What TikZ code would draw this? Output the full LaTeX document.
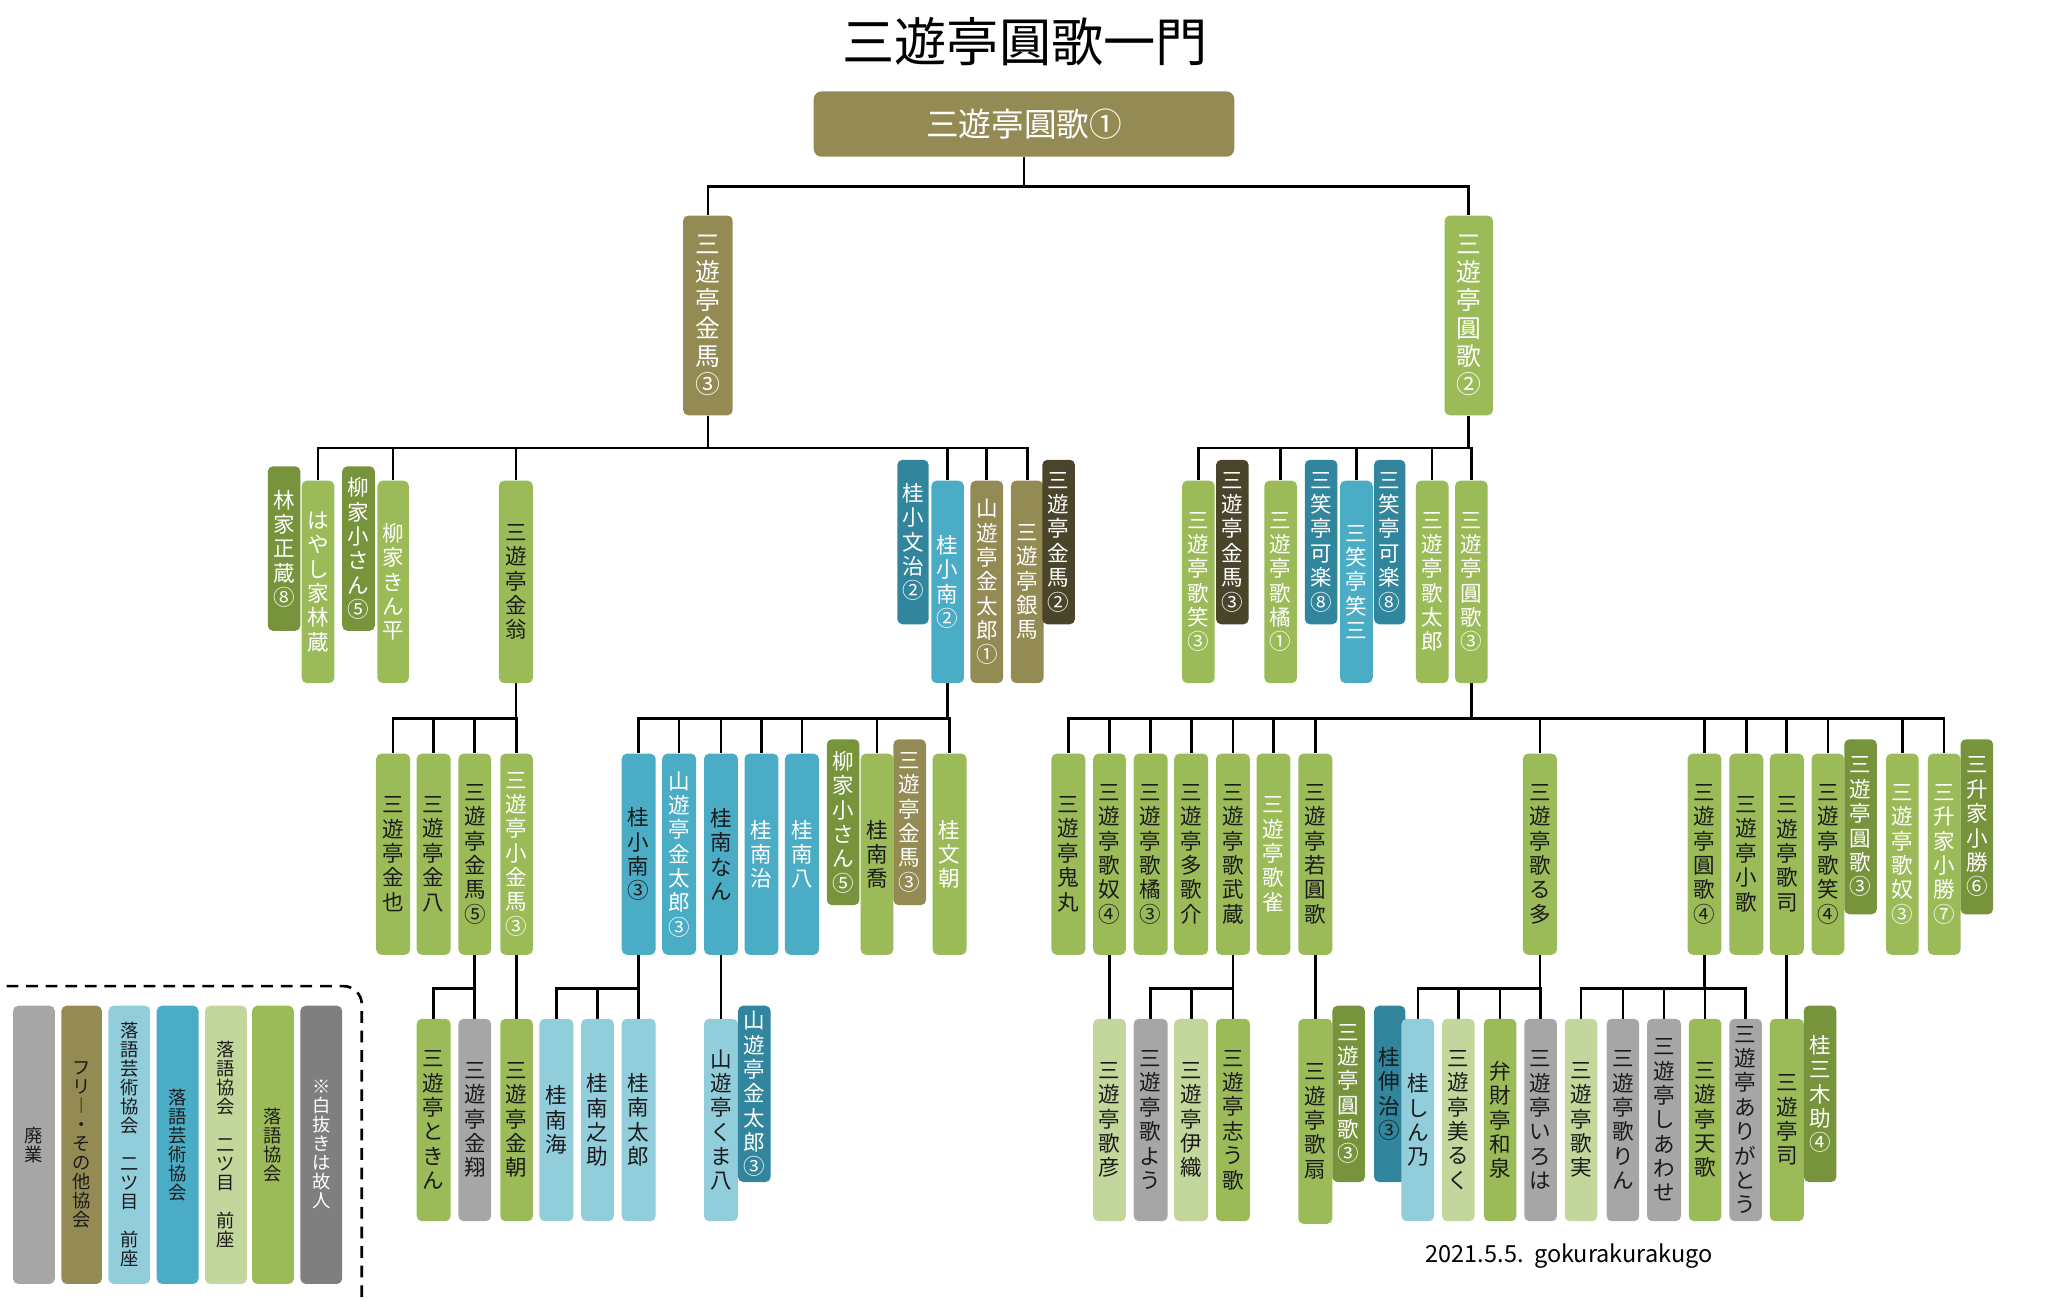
\documentclass[tikz,border=0pt]{standalone}
\usepackage{fontspec}
\setmainfont{Noto Sans CJK JP}
\usetikzlibrary{backgrounds}
\ExplSyntaxOn
\NewDocumentCommand\vt{m}{\vbox{\baselineskip=1.13em\lineskip=0pt\lineskiplimit=-100pt\tl_map_inline:nn{#1}{\hbox to 1em{\hss##1\hss}}}}
\NewDocumentCommand\vtl{m}{\vbox{\baselineskip=1.04em\lineskip=0pt\lineskiplimit=-100pt\tl_map_inline:nn{#1}{\hbox to 1em{\hss##1\hss}}}}
\ExplSyntaxOff
\definecolor{g}{HTML}{9BBB59}
\definecolor{dg}{HTML}{77933C}
\definecolor{ol}{HTML}{948A54}
\definecolor{do}{HTML}{4A452A}
\definecolor{te}{HTML}{31859C}
\definecolor{bl}{HTML}{4BACC6}
\definecolor{pb}{HTML}{92CDDC}
\definecolor{pg}{HTML}{C3D69B}
\definecolor{gr}{HTML}{A6A6A6}
\definecolor{dgr}{HTML}{7F7F7F}
\colorlet{W}{white}
\definecolor{K}{HTML}{1A1A1A}
\tikzset{
  box/.style={rounded corners=4pt,inner sep=0pt,font=\fontsize{16.5}{18}\selectfont},
  con/.style={line width=2pt,black},
}
% \B{name}{x1}{x2}{y1}{y2}{fill}{text}{label}
\newcommand\B[8]{\node[box,fill=#6,text=#7,minimum width={(#3-#2)*1pt},minimum height={(#5-#4)*1pt}] (#1) at ({(#2+#3)/2},{(#4+#5)/2}) {\vt{#8}};}
\newcommand\Bs[8]{\node[box,fill=#6,text=#7,minimum width={(#3-#2)*1pt},minimum height={(#5-#4)*1pt},font=\fontsize{19}{21}\selectfont] (#1) at ({(#2+#3)/2},{(#4+#5)/2}) {\vt{#8}};}
\newcommand\Bl[8]{\node[box,fill=#6,text=#7,minimum width={(#3-#2)*1pt},minimum height={(#5-#4)*1pt},font=\fontsize{14}{16}\selectfont] (#1) at ({(#2+#3)/2},{(#4+#5)/2}) {\vtl{#8}};}
\newcommand\con[3]{\draw[con] (#1.south) -- (#1.south|-#2) -| (#3.north);}
\begin{document}
\begin{tikzpicture}[x=1pt,y=-1pt]
\useasboundingbox (0,0) rectangle (1568,995);
\coordinate (L0) at (0,143);
\coordinate (L1) at (0,343);
\coordinate (L2) at (0,550);
\coordinate (L3) at (0,757);
\node[font=\fontsize{40}{44}\selectfont] (title) at (785,32) {三遊亭圓歌一門};
\node[fill=ol,rounded corners=6pt,text=white,minimum width=322pt,minimum height=50pt,font=\fontsize{25}{27}\selectfont] (r) at (784,95) {三遊亭圓歌①};
\Bs{k3}{523}{561}{165}{318}{ol}{W}{三遊亭金馬③}
\Bs{e2}{1106}{1143}{165}{318}{g}{W}{三遊亭圓歌②}
% level 2 left
\B{a1}{205}{230}{357}{483}{dg}{W}{林家正蔵⑧}
\B{a2}{231}{256}{368}{523}{g}{W}{はやし家林蔵}
\B{a3}{262}{287}{357}{483}{dg}{W}{柳家小さん⑤}
\B{a4}{289}{313}{368}{523}{g}{W}{柳家きん平}
\B{a5}{382}{408}{368}{523}{g}{K}{三遊亭金翁}
\B{a6}{687}{711}{352}{478}{te}{W}{桂小文治②}
\B{a7}{713}{738}{368}{523}{bl}{W}{桂小南②}
\B{a8}{743}{768}{368}{523}{ol}{W}{山遊亭金太郎①}
\B{a9}{774}{799}{368}{523}{ol}{W}{三遊亭銀馬}
\B{a10}{798}{823}{352}{478}{do}{W}{三遊亭金馬②}
% level 2 right
\B{b1}{905}{930}{368}{523}{g}{W}{三遊亭歌笑③}
\B{b2}{931}{956}{352}{478}{do}{W}{三遊亭金馬③}
\B{b3}{968}{993}{368}{523}{g}{W}{三遊亭歌橘①}
\B{b4}{999}{1024}{352}{478}{te}{W}{三笑亭可楽⑧}
\B{b5}{1026}{1051}{368}{523}{bl}{W}{三笑亭笑三}
\B{b6}{1052}{1076}{352}{478}{te}{W}{三笑亭可楽⑧}
\B{b7}{1084}{1109}{368}{523}{g}{W}{三遊亭歌太郎}
\B{b8}{1114}{1139}{368}{523}{g}{W}{三遊亭圓歌③}
% level 3
\B{c1}{288}{314}{577}{731}{g}{K}{三遊亭金也}
\B{c2}{319}{345}{577}{731}{g}{K}{三遊亭金八}
\B{c3}{351}{376}{577}{731}{g}{K}{三遊亭金馬⑤}
\B{c4}{383}{408}{577}{731}{g}{W}{三遊亭小金馬③}
\B{d1}{476}{502}{577}{731}{bl}{K}{桂小南③}
\B{d2}{507}{533}{577}{731}{bl}{W}{山遊亭金太郎③}
\B{d3}{539}{565}{577}{731}{bl}{K}{桂南なん}
\B{d4}{570}{596}{577}{731}{bl}{W}{桂南治}
\B{d5}{601}{627}{577}{731}{bl}{W}{桂南八}
\B{d6}{633}{658}{566}{693}{dg}{W}{柳家小さん⑤}
\B{d7}{659}{684}{577}{731}{g}{K}{桂南喬}
\B{d8}{684}{709}{566}{693}{ol}{W}{三遊亭金馬③}
\B{d9}{714}{740}{577}{731}{g}{W}{桂文朝}
\B{f1}{805}{831}{577}{731}{g}{K}{三遊亭鬼丸}
\B{f2}{837}{862}{577}{731}{g}{K}{三遊亭歌奴④}
\B{f3}{868}{894}{577}{731}{g}{K}{三遊亭歌橘③}
\B{f4}{899}{925}{577}{731}{g}{K}{三遊亭多歌介}
\B{f5}{931}{957}{577}{731}{g}{K}{三遊亭歌武蔵}
\B{f6}{962}{988}{577}{731}{g}{W}{三遊亭歌雀}
\B{f7}{994}{1020}{577}{731}{g}{K}{三遊亭若圓歌}
\B{f8}{1166}{1192}{577}{731}{g}{K}{三遊亭歌る多}
\B{f9}{1292}{1318}{577}{731}{g}{K}{三遊亭圓歌④}
\B{f10}{1324}{1350}{577}{731}{g}{K}{三遊亭小歌}
\B{f11}{1355}{1381}{577}{731}{g}{K}{三遊亭歌司}
\B{f12}{1387}{1412}{577}{731}{g}{K}{三遊亭歌笑④}
\B{f13}{1412}{1437}{566}{700}{dg}{W}{三遊亭圓歌③}
\B{f14}{1444}{1469}{577}{731}{g}{W}{三遊亭歌奴③}
\B{f15}{1476}{1501}{577}{731}{g}{W}{三升家小勝⑦}
\B{f16}{1501}{1526}{566}{700}{dg}{W}{三升家小勝⑥}
% level 4
\B{g1}{319}{345}{780}{935}{g}{K}{三遊亭ときん}
\B{g2}{351}{376}{780}{935}{gr}{K}{三遊亭金翔}
\B{g3}{383}{408}{780}{935}{g}{K}{三遊亭金朝}
\B{h1}{413}{439}{780}{935}{pb}{K}{桂南海}
\B{h2}{445}{470}{780}{935}{pb}{K}{桂南之助}
\B{h3}{476}{502}{780}{935}{pb}{K}{桂南太郎}
\B{h4}{539}{565}{780}{935}{pb}{K}{山遊亭くま八}
\B{h5}{565}{590}{770}{905}{te}{W}{山遊亭金太郎③}
\B{i1}{837}{862}{780}{935}{pg}{K}{三遊亭歌彦}
\B{i2}{868}{894}{780}{935}{gr}{K}{三遊亭歌よう}
\B{i3}{899}{925}{780}{935}{pg}{K}{三遊亭伊織}
\B{i4}{931}{957}{780}{935}{g}{K}{三遊亭志う歌}
\B{i5}{994}{1020}{780}{937}{g}{K}{三遊亭歌扇}
\B{i6}{1020}{1045}{770}{905}{dg}{W}{三遊亭圓歌③}
\B{i7}{1052}{1076}{770}{905}{te}{K}{桂伸治③}
\B{i8}{1073}{1098}{780}{935}{pb}{K}{桂しん乃}
\B{i9}{1104}{1129}{780}{935}{pg}{K}{三遊亭美るく}
\B{i10}{1136}{1161}{780}{935}{g}{K}{弁財亭和泉}
\B{i11}{1167}{1192}{780}{935}{gr}{K}{三遊亭いろは}
\B{j1}{1198}{1223}{780}{935}{pg}{K}{三遊亭歌実}
\B{j2}{1230}{1255}{780}{935}{gr}{K}{三遊亭歌りん}
\B{j3}{1261}{1287}{780}{935}{gr}{K}{三遊亭しあわせ}
\B{j4}{1293}{1318}{780}{935}{g}{K}{三遊亭天歌}
\B{j5}{1324}{1349}{780}{935}{gr}{K}{三遊亭ありがとう}
\B{j6}{1355}{1381}{780}{935}{g}{K}{三遊亭司}
\B{j7}{1381}{1406}{770}{905}{dg}{W}{桂三木助④}
% legend
\Bl{x1}{10}{42}{770}{983}{gr}{K}{廃業}
\Bl{x2}{47}{78}{770}{983}{ol}{K}{フリ︱・その他協会}
\Bl{x3}{83}{115}{770}{983}{pb}{K}{落語芸術協会　二ツ目　前座}
\Bl{x4}{120}{152}{770}{983}{bl}{K}{落語芸術協会}
\Bl{x5}{157}{189}{770}{983}{pg}{K}{落語協会　二ツ目　前座}
\Bl{x6}{193}{225}{770}{983}{g}{K}{落語協会}
\Bl{x7}{230}{262}{770}{983}{dgr}{W}{※白抜きは故人}
\draw[line width=2pt,dash pattern=on 9pt off 6pt,rounded corners=14pt] (5,755) -- (277,755) -- (277,995);
\node[anchor=west,font=\fontsize{18}{20}\selectfont] (foot) at (1088,962) {2021.5.5.\ \ gokurakurakugo};
\begin{scope}[on background layer]
\foreach \c in {k3,e2}{\con{r}{L0}{\c}}
\foreach \c in {a2,a4,a5,a7,a8,a9}{\con{k3}{L1}{\c}}
\foreach \c in {b1,b3,b5,b7,b8}{\con{e2}{L1}{\c}}
\foreach \c in {c1,c2,c3,c4}{\con{a5}{L2}{\c}}
\foreach \c in {d1,d2,d3,d4,d5,d7,d9}{\con{a7}{L2}{\c}}
\foreach \c in {f1,f2,f3,f4,f5,f6,f7,f8,f9,f10,f11,f12,f14,f15}{\con{b8}{L2}{\c}}
\foreach \c in {g1,g2}{\con{c3}{L3}{\c}}
\con{c4}{L3}{g3}
\foreach \c in {h1,h2,h3}{\con{d1}{L3}{\c}}
\con{d3}{L3}{h4}
\con{f2}{L3}{i1}
\foreach \c in {i2,i3,i4}{\con{f5}{L3}{\c}}
\con{f7}{L3}{i5}
\foreach \c in {i8,i9,i10,i11}{\con{f8}{L3}{\c}}
\foreach \c in {j1,j2,j3,j4,j5}{\con{f9}{L3}{\c}}
\con{f11}{L3}{j6}
\end{scope}
\end{tikzpicture}
\end{document}
